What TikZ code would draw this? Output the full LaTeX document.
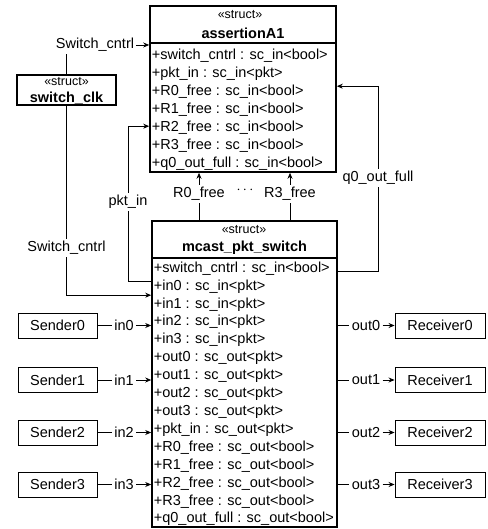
\documentclass[tikz,border=0pt]{standalone}
\usepackage{fontspec}
\setmainfont{Liberation Sans}
\usetikzlibrary{calc,arrows.meta}

\begin{document}
\begin{tikzpicture}[x=1pt, y=-1pt, >={Stealth[length=6pt,width=5pt]},
        font=\fontsize{14.5}{16}\selectfont,
        classbox/.style={draw, line width=1.6pt, inner sep=0pt},
        plainbox/.style={draw, line width=0.9pt, minimum width=79pt, minimum height=25pt},
        rowtxt/.style={anchor=west, inner sep=1pt},
        lbl/.style={inner sep=2pt},
        stereo/.style={font=\fontsize{12.5}{14}\selectfont},
        title/.style={font=\fontsize{14.5}{16}\selectfont\bfseries},
        every path/.style={line width=0.8pt}]
        \useasboundingbox (0,0) rectangle (487,529);

        % 参数
        \def\rowh{17.9}    % row pitch

        % assertionA1
        \node[classbox, minimum width=186, minimum height=166] (assert) at (243,89) {};
        \node[stereo] (assertst) at (240,15) {«struct»};
        \node[title] (asserttt) at (243,33) {assertionA1};
        \draw[line width=1.6pt] ($(assert.north west)+(0,38)$) -- ($(assert.north east)+(0,38)$);
        \foreach \t [count=\i from 0] in {+switch\_cntrl : sc\_in<bool>, +pkt\_in : sc\_in<pkt>,
                +R0\_free : sc\_in<bool>, +R1\_free : sc\_in<bool>, +R2\_free : sc\_in<bool>,
                +R3\_free : sc\_in<bool>, +q0\_out\_full : sc\_in<bool>}
            \node[rowtxt] (a\i) at (150.5, 56+\i*\rowh) {\t};

        % mcast_pkt_switch
        \node[classbox, minimum width=185, minimum height=306] (mcast) at (244.5,374) {};
        \node[stereo] (mcastst) at (244,230) {«struct»};
        \node[title] (mcasttt) at (244.5,248) {mcast\_pkt\_switch};
        \draw[line width=1.6pt] ($(mcast.north west)+(0,38)$) -- ($(mcast.north east)+(0,38)$);
        \foreach \t [count=\i from 0] in {+switch\_cntrl : sc\_in<bool>,
                +in0 : sc\_in<pkt>, +in1 : sc\_in<pkt>, +in2 : sc\_in<pkt>, +in3 : sc\_in<pkt>,
                +out0 : sc\_out<pkt>, +out1 : sc\_out<pkt>, +out2 : sc\_out<pkt>, +out3 : sc\_out<pkt>,
                +pkt\_in : sc\_out<pkt>,
                +R0\_free : sc\_out<bool>, +R1\_free : sc\_out<bool>, +R2\_free : sc\_out<bool>,
                +R3\_free : sc\_out<bool>, +q0\_out\_full : sc\_out<bool>}
            \node[rowtxt] (m\i) at (152.5, 268.5+\i*\rowh) {\t};

        % switch_clk
        \node[classbox, minimum width=99, minimum height=30] (clk) at (66.5,90) {};
        \node[stereo] (clkst) at (66.5,82) {«struct»};
        \node[title] (clktt) at (66.5,98) {switch\_clk};

        % Switch_cntrl
        \node[lbl] (sc1) at (95,45) {Switch\_cntrl};
        \draw (clk.north) -- (clk.north |- sc1.south);
        \draw[->] (sc1.east) -- (sc1.east -| assert.west);
        \node[lbl] (sc2) at (66.5,248) {Switch\_cntrl};
        \draw (clk) -- (sc2);
        \draw[->] (sc2) |- ($(mcast.north west)+(0,75)$);

        % pkt_in
        \node[lbl] (pk) at (128,202) {pkt\_in};
        \draw ($(mcast.north west)+(0,61)$) -| (pk);
        \draw[->] (pk) |- ($(assert.north west)+(0,121)$);

        % R0_free ... R3_free
        \node[lbl] (rf0) at (199,194) {R0\_free};
        \draw (mcast.north -| rf0) -- (rf0);
        \draw[->] (rf0) -- (rf0 |- assert.south);
        \node[lbl] (dots) at (245,190) {$\cdots$};
        \node[lbl] (rf3) at (290,194) {R3\_free};
        \draw (mcast.north -| rf3) -- (rf3);
        \draw[->] (rf3) -- (rf3 |- assert.south);

        % q0_out_full
        \node[lbl] (q0) at (378,178) {q0\_out\_full};
        \draw ($(mcast.north east)+(0,51)$) -| (q0);
        \draw[->] (q0) |- ($(assert.north east)+(0,81)$);

        % Sender / Receiver
        \foreach \i/\y in {0/325.5, 1/380, 2/432.5, 3/484.5} {
            \node[plainbox] (snd\i) at (57.5,\y) {Sender\i};
            \node[lbl] (in\i) at (124,\y) {in\i};
            \draw (snd\i) -- (in\i);
            \draw[->] (in\i) -- (in\i -| mcast.west);
            \node[plainbox, minimum width=90] (rcv\i) at (440,\y) {Receiver\i};
            \node[lbl] (out\i) at (366,\y) {out\i};
            \draw (out\i -| mcast.east) -- (out\i);
            \draw[->] (out\i) -- (rcv\i);
        }

    \end{tikzpicture}
\end{document}
